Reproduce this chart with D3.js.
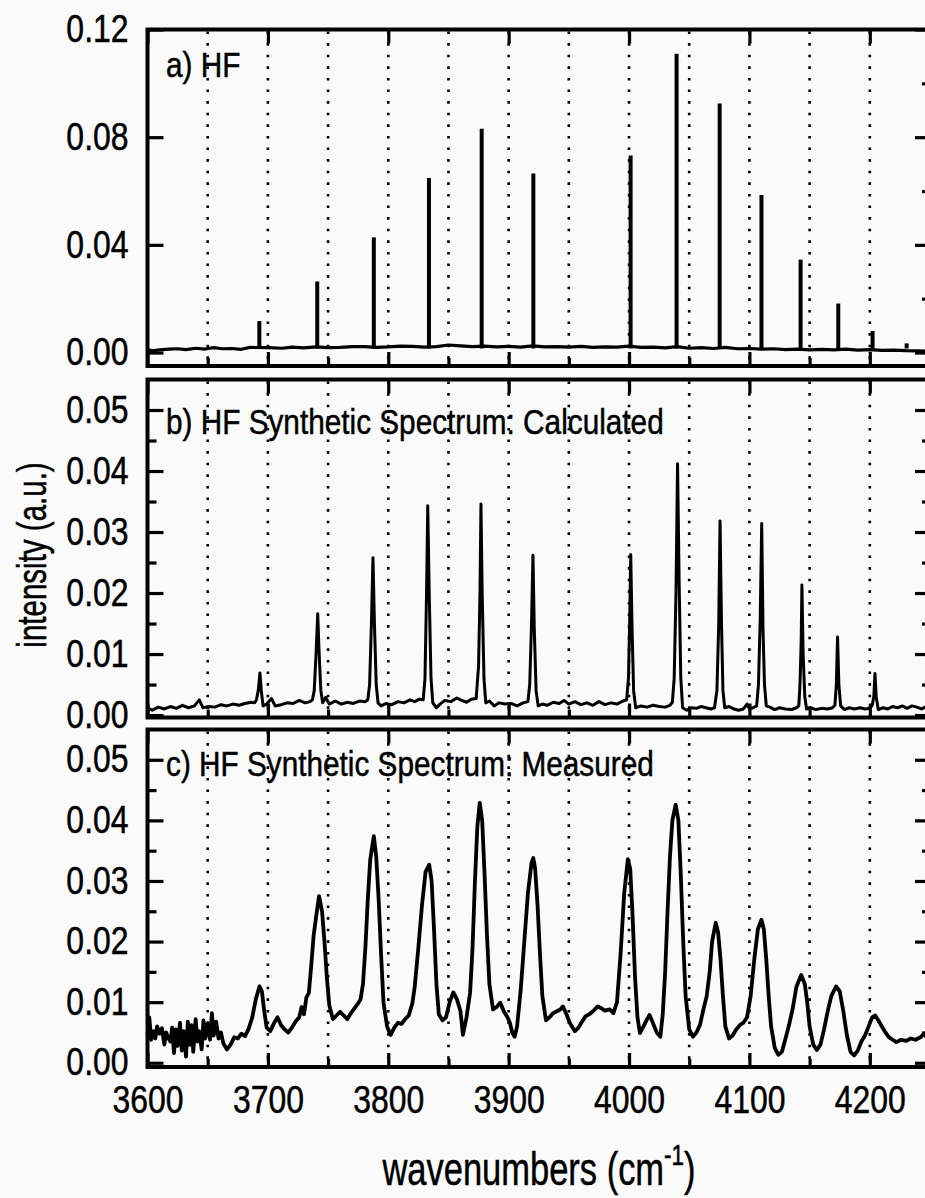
<!DOCTYPE html>
<html>
<head>
<meta charset="utf-8">
<script src="https://cdn.jsdelivr.net/npm/d3@7"></script>
<style>
  html, body { margin: 0; padding: 0; background: #fafafa; }
  svg { display: block; }
  text { font-family: "Liberation Sans", Arial, sans-serif; fill: #000; stroke: #000; stroke-width: 0.5px; }
</style>
</head>
<body>
<svg id="chart" width="925" height="1198"></svg>
<script>
// eixo x (numero de onda)
const wavenumberDomain = [3600, 4250];
const xMajorTicks = [3600, 3700, 3800, 3900, 4000, 4100, 4200];
const xGridTicks = [3650, 3700, 3750, 3800, 3850, 3900, 3950, 4000, 4050, 4100, 4150, 4200];

// painel a) HF: linha de base + linhas (sticks)
const hfBaseline = [
    [3600, 0.0012], [3604, 0.0006], [3610, 0.0010], [3618, 0.0013], [3625, 0.0014],
    [3632, 0.0011], [3640, 0.0016], [3648, 0.0013], [3655, 0.0018], [3662, 0.0014],
    [3670, 0.0015], [3678, 0.0012], [3685, 0.0019], [3700, 0.0018], [3712, 0.0016],
    [3720, 0.0020], [3730, 0.0017], [3740, 0.0021], [3750, 0.0018], [3760, 0.0019],
    [3770, 0.0022], [3780, 0.0022], [3790, 0.0019], [3800, 0.0021], [3810, 0.0024],
    [3820, 0.0023], [3830, 0.0020], [3840, 0.0022], [3850, 0.0028], [3860, 0.0025],
    [3870, 0.0022], [3880, 0.0024], [3890, 0.0021], [3900, 0.0023], [3910, 0.0020],
    [3920, 0.0025], [3930, 0.0021], [3940, 0.0022], [3950, 0.0020], [3960, 0.0023],
    [3970, 0.0019], [3980, 0.0021], [3990, 0.0020], [4000, 0.0024], [4010, 0.0019],
    [4020, 0.0020], [4030, 0.0017], [4040, 0.0022], [4050, 0.0016], [4060, 0.0018],
    [4070, 0.0015], [4080, 0.0019], [4090, 0.0014], [4100, 0.0015], [4110, 0.0013],
    [4120, 0.0014], [4130, 0.0011], [4140, 0.0013], [4150, 0.0010], [4160, 0.0012],
    [4170, 0.0010], [4180, 0.0013], [4190, 0.0009], [4200, 0.0011], [4210, 0.0008],
    [4220, 0.0009], [4230, 0.0007], [4240, 0.0006], [4250, 0.0005]
];
const hfPeaks = [
    [3692.9, 0.0117], [3741.0, 0.0264], [3788.0, 0.0428], [3833.8, 0.0648],
    [3877.6, 0.0831], [3920.5, 0.0665], [4001.3, 0.0732], [4039.5, 0.1110],
    [4075.3, 0.0925], [4110.0, 0.0585], [4142.5, 0.0345], [4173.8, 0.0182],
    [4202.3, 0.0080], [4230.6, 0.0034]
];

// painel b) espectro sintetico calculado
const calcSpectrum = [
    [3600, 0.0012], [3604, 0.0008], [3609, 0.0013], [3614, 0.0010], [3619, 0.0014],
    [3624, 0.0011], [3629, 0.0016], [3634, 0.0012], [3639, 0.0015], [3643, 0.0025],
    [3646, 0.0012], [3651, 0.0014], [3656, 0.0013], [3661, 0.0017], [3666, 0.0015],
    [3671, 0.0018], [3676, 0.0016], [3681, 0.0019], [3686, 0.0021], [3689, 0.0020],
    [3690.5, 0.0025], [3692, 0.0040], [3693.4, 0.0069], [3694.5, 0.0040], [3696, 0.0015],
    [3699, 0.0018], [3703, 0.0027], [3706, 0.0015], [3711, 0.0017], [3716, 0.0020],
    [3721, 0.0019], [3726, 0.0024], [3731, 0.0020], [3735, 0.0022], [3737, 0.0025],
    [3738.5, 0.0040], [3740, 0.0100], [3741.4, 0.0166], [3742.6, 0.0100], [3744, 0.0040],
    [3745.5, 0.0020], [3748, 0.0029], [3751, 0.0018], [3756, 0.0023], [3761, 0.0018],
    [3766, 0.0021], [3771, 0.0019], [3776, 0.0023], [3781, 0.0022], [3783, 0.0025],
    [3784.5, 0.0050], [3786, 0.0150], [3787.3, 0.0258], [3788.5, 0.0150], [3790, 0.0050],
    [3791.5, 0.0020], [3794, 0.0015], [3798, 0.0019], [3803, 0.0017], [3808, 0.0022],
    [3813, 0.0020], [3818, 0.0025], [3822, 0.0022], [3826, 0.0026], [3829, 0.0025],
    [3830.5, 0.0060], [3831.8, 0.0200], [3832.8, 0.0343], [3834, 0.0200], [3835.5, 0.0060],
    [3837, 0.0020], [3840, 0.0012], [3843, 0.0018], [3847, 0.0024], [3852, 0.0022],
    [3857, 0.0028], [3861, 0.0024], [3865, 0.0021], [3869, 0.0026], [3873, 0.0027],
    [3875, 0.0080], [3876.2, 0.0200], [3877, 0.0346], [3878, 0.0200], [3879.5, 0.0060],
    [3881, 0.0020], [3884, 0.0023], [3888, 0.0015], [3892, 0.0020], [3897, 0.0018],
    [3902, 0.0019], [3907, 0.0015], [3912, 0.0020], [3916, 0.0022],
    [3917.5, 0.0050], [3919, 0.0150], [3920.2, 0.0262], [3921.3, 0.0140], [3922.8, 0.0040],
    [3924.5, 0.0015], [3928, 0.0018], [3932, 0.0016], [3937, 0.0021], [3942, 0.0019],
    [3946, 0.0024], [3950, 0.0018], [3955, 0.0022], [3960, 0.0017], [3965, 0.0020],
    [3970, 0.0016], [3975, 0.0022], [3980, 0.0017], [3985, 0.0020], [3990, 0.0018],
    [3995, 0.0023], [3998, 0.0025],
    [3999.5, 0.0060], [4000.5, 0.0150], [4001.4, 0.0263], [4002.4, 0.0150], [4003.8, 0.0040],
    [4005.5, 0.0012], [4010, 0.0015], [4015, 0.0013], [4020, 0.0016], [4025, 0.0014],
    [4030, 0.0013], [4034, 0.0016], [4036, 0.0021],
    [4037.5, 0.0060], [4039, 0.0200], [4040.3, 0.0412], [4041.6, 0.0220], [4043, 0.0060],
    [4044.5, 0.0012], [4048, 0.0008], [4052, 0.0012], [4056, 0.0011], [4060, 0.0014],
    [4064, 0.0012], [4068, 0.0010], [4071, 0.0012],
    [4073, 0.0040], [4074.5, 0.0150], [4075.6, 0.0318], [4076.8, 0.0150], [4078, 0.0040],
    [4079.5, 0.0012], [4083, 0.0014], [4087, 0.0010], [4091, 0.0008], [4095, 0.0010],
    [4098, 0.0018], [4100, 0.0010], [4103, 0.0012], [4106, 0.0015],
    [4107.5, 0.0050], [4109, 0.0160], [4110.2, 0.0314], [4111.3, 0.0140], [4112.5, 0.0050],
    [4114, 0.0015], [4117, 0.0013], [4121, 0.0009], [4125, 0.0012], [4130, 0.0010],
    [4135, 0.0009], [4139, 0.0012], [4141, 0.0015],
    [4142, 0.0050], [4143, 0.0120], [4143.6, 0.0213], [4144.6, 0.0100], [4146, 0.0030],
    [4147.5, 0.0010], [4151, 0.0012], [4155, 0.0009], [4160, 0.0011], [4165, 0.0010],
    [4169, 0.0012], [4171, 0.0016],
    [4172.2, 0.0050], [4173.2, 0.0128], [4174.3, 0.0050], [4175.8, 0.0015],
    [4179, 0.0009], [4183, 0.0012], [4187, 0.0010], [4192, 0.0012], [4196, 0.0010],
    [4200, 0.0011], [4202, 0.0016],
    [4203.3, 0.0030], [4204.3, 0.0068], [4205.3, 0.0030], [4207, 0.0009],
    [4211, 0.0012], [4215, 0.0010], [4219, 0.0014], [4223, 0.0012], [4227, 0.0015],
    [4231, 0.0011], [4235, 0.0015], [4239, 0.0013], [4243, 0.0010], [4247, 0.0014],
    [4250, 0.0012]
];

// painel c) espectro sintetico medido
const measSpectrum = [
    [3600, 0.0045], [3601.5, 0.0075], [3603, 0.0038], [3605, 0.0052], [3606.5, 0.0040],
    [3608, 0.0060], [3610, 0.0048], [3612, 0.0057], [3614, 0.0030], [3615.5, 0.0050],
    [3617, 0.0042], [3619, 0.0035], [3620.5, 0.0058], [3622, 0.0016], [3623.5, 0.0055],
    [3625, 0.0028], [3627, 0.0066], [3628.5, 0.0020], [3630, 0.0052], [3632, 0.0010],
    [3633.5, 0.0068], [3635, 0.0030], [3636.5, 0.0062], [3638, 0.0018], [3640, 0.0072],
    [3641.5, 0.0035], [3643, 0.0052], [3645, 0.0022], [3646.5, 0.0070], [3648, 0.0040],
    [3650, 0.0065], [3652, 0.0038], [3653.5, 0.0082], [3655, 0.0045], [3657, 0.0068],
    [3659, 0.0040], [3661, 0.0050], [3663, 0.0032], [3666, 0.0022], [3669, 0.0030],
    [3672, 0.0042], [3675, 0.0040], [3678, 0.0048], [3681, 0.0044], [3684, 0.0056],
    [3687, 0.0075], [3690, 0.0105], [3693, 0.0126], [3695, 0.0118], [3697, 0.0085],
    [3699, 0.0058], [3702, 0.0052], [3705, 0.0065], [3708, 0.0075], [3711, 0.0062],
    [3714, 0.0055], [3717, 0.0050], [3720, 0.0058], [3723, 0.0068], [3726, 0.0075],
    [3728, 0.0092], [3730, 0.0080], [3732, 0.0108], [3734, 0.0115], [3736, 0.0160],
    [3738, 0.0210], [3740, 0.0240], [3742.5, 0.0275], [3745, 0.0250], [3747, 0.0200],
    [3749, 0.0140], [3751, 0.0095], [3754, 0.0072], [3757, 0.0078], [3760, 0.0084],
    [3763, 0.0078], [3766, 0.0072], [3769, 0.0082], [3772, 0.0090], [3775, 0.0098],
    [3777, 0.0105], [3779, 0.0130], [3781, 0.0190], [3783, 0.0270], [3785, 0.0335],
    [3788, 0.0374], [3790, 0.0340], [3792, 0.0270], [3794, 0.0180], [3796, 0.0100],
    [3799, 0.0060], [3802, 0.0046], [3805, 0.0058], [3808, 0.0066], [3811, 0.0064],
    [3814, 0.0072], [3817, 0.0078], [3820, 0.0098], [3822, 0.0126], [3825, 0.0190],
    [3828, 0.0260], [3831, 0.0315], [3834, 0.0327], [3836, 0.0300], [3838, 0.0220],
    [3840, 0.0130], [3842, 0.0080], [3845, 0.0070], [3848, 0.0075], [3851, 0.0100],
    [3854, 0.0116], [3857, 0.0105], [3860, 0.0085], [3862, 0.0046], [3865, 0.0075],
    [3868, 0.0116], [3870, 0.0190], [3872, 0.0300], [3874, 0.0390], [3876, 0.0429],
    [3878, 0.0400], [3880, 0.0310], [3882, 0.0210], [3884, 0.0130], [3887, 0.0088],
    [3890, 0.0092], [3893, 0.0099], [3896, 0.0085], [3899, 0.0075], [3901, 0.0066],
    [3903, 0.0050], [3905, 0.0043], [3907, 0.0060], [3910, 0.0120], [3913, 0.0200],
    [3916, 0.0280], [3919, 0.0330], [3920.5, 0.0338], [3922, 0.0320], [3924, 0.0260],
    [3926, 0.0180], [3928, 0.0110], [3931, 0.0070], [3934, 0.0075], [3937, 0.0082],
    [3940, 0.0085], [3943, 0.0088], [3945, 0.0093], [3948, 0.0080], [3951, 0.0065],
    [3955, 0.0052], [3958, 0.0058], [3961, 0.0068], [3964, 0.0077], [3967, 0.0080],
    [3970, 0.0085], [3974, 0.0093], [3977, 0.0090], [3980, 0.0086], [3984, 0.0088],
    [3987, 0.0082], [3990, 0.0100], [3993, 0.0180], [3996, 0.0280], [3999, 0.0336],
    [4001, 0.0320], [4003, 0.0240], [4005, 0.0140], [4007, 0.0075], [4009, 0.0049],
    [4012, 0.0060], [4015, 0.0072], [4017, 0.0079], [4020, 0.0065], [4023, 0.0050],
    [4026, 0.0043], [4028, 0.0080], [4030, 0.0150], [4032, 0.0250], [4034, 0.0340],
    [4036, 0.0400], [4038.7, 0.0426], [4041, 0.0400], [4043, 0.0310], [4045, 0.0200],
    [4047, 0.0110], [4050, 0.0055], [4053, 0.0043], [4056, 0.0050], [4059, 0.0063],
    [4062, 0.0090], [4064.5, 0.0110], [4067, 0.0150], [4069, 0.0200], [4072, 0.0231],
    [4074, 0.0215], [4076, 0.0170], [4078, 0.0110], [4080, 0.0060], [4083, 0.0040],
    [4086, 0.0045], [4089, 0.0055], [4092, 0.0062], [4095, 0.0066], [4098, 0.0075],
    [4101, 0.0110], [4104, 0.0170], [4107, 0.0220], [4110, 0.0236], [4112, 0.0220],
    [4114, 0.0170], [4116, 0.0110], [4118, 0.0060], [4121, 0.0025], [4124, 0.0013],
    [4127, 0.0018], [4130, 0.0040], [4133, 0.0063], [4136, 0.0090], [4139, 0.0125],
    [4143, 0.0145], [4146, 0.0130], [4148, 0.0100], [4150, 0.0060], [4153, 0.0030],
    [4156, 0.0021], [4159, 0.0030], [4162, 0.0055], [4165, 0.0085], [4168, 0.0110],
    [4172, 0.0126], [4175, 0.0118], [4178, 0.0085], [4181, 0.0045], [4184, 0.0018],
    [4187, 0.0012], [4190, 0.0020], [4193, 0.0035], [4196, 0.0045], [4199, 0.0060],
    [4202, 0.0075], [4204.5, 0.0078], [4207, 0.0070], [4210, 0.0060], [4213, 0.0050],
    [4216, 0.0042], [4219, 0.0038], [4222, 0.0034], [4226, 0.0038], [4230, 0.0036],
    [4234, 0.0040], [4238, 0.0038], [4242, 0.0042], [4245, 0.0048], [4248, 0.0040],
    [4250, 0.0043]
];

// ticks do eixo y
const aYTicks = [0, 0.04, 0.08, 0.12];
const aYMinor = [0.02, 0.06, 0.10];
const bcYTicks = [0, 0.01, 0.02, 0.03, 0.04, 0.05];
const bcYMinor = [0.005, 0.015, 0.025, 0.035, 0.045];

const panelLabels = ["a) HF", "b) HF Synthetic Spectrum: Calculated", "c) HF Synthetic Spectrum: Measured"];
const yTitle = "intensity (a.u.)";

// Dimensões
const left = 147.5, right = 930;

const svg = d3.select("#chart");

const x = d3.scaleLinear().domain(wavenumberDomain).range([left, right]);

// comprime o texto na horizontal (fonte estreita)
function squeeze(sel, k) {
    sel.each(function () {
        const w = this.getComputedTextLength();
        d3.select(this).attr("textLength", w * k).attr("lengthAdjust", "spacingAndGlyphs");
    });
}

// paineis (posicoes em pixels)
const panels = [
    { top: 29.5, bottom: 366, domain: [-0.005, 0.12], ticks: aYTicks, minor: aYMinor, leftMinor: false, label: panelLabels[0], labelY: 77 },
    { top: 379.5, bottom: 717.5, domain: [-0.0004, 0.055], ticks: bcYTicks, minor: bcYMinor, leftMinor: true, label: panelLabels[1], labelY: 434 },
    { top: 729.5, bottom: 1067, domain: [-0.0007, 0.055], ticks: bcYTicks, minor: bcYMinor, leftMinor: true, label: panelLabels[2], labelY: 776 }
];

panels.forEach(p => {
    p.y = d3.scaleLinear().domain(p.domain).range([p.bottom, p.top]);
});

const fmt = d3.format(".2f");

panels.forEach((p, i) => {
    const g = svg.append("g");

    // grade pontilhada
    g.selectAll(".grid")
        .data(xGridTicks)
        .enter().append("line")
        .attr("x1", d => x(d)).attr("x2", d => x(d))
        .attr("y1", p.top + 2).attr("y2", p.bottom - 2)
        .attr("stroke", "#000")
        .attr("stroke-width", 2.6)
        .attr("stroke-dasharray", "2.6,9");

    // eixo esquerdo
    const yAxis = d3.axisLeft(p.y).tickValues(p.ticks).tickFormat(fmt).tickSize(-16).tickPadding(19);
    g.append("g").attr("transform", `translate(${left},0)`).call(yAxis);
    if (p.leftMinor) {
        g.append("g").attr("transform", `translate(${left},0)`)
            .call(d3.axisLeft(p.y).tickValues(p.minor).tickFormat("").tickSize(-9));
    }
    // eixo direito
    g.append("g").attr("transform", `translate(${right},0)`)
        .call(d3.axisRight(p.y).tickValues(p.ticks).tickFormat("").tickSize(-15));
    g.append("g").attr("transform", `translate(${right},0)`)
        .call(d3.axisRight(p.y).tickValues(p.minor).tickFormat("").tickSize(-8));

    // eixo superior e inferior
    g.append("g").attr("transform", `translate(0,${p.top})`)
        .call(d3.axisTop(x).tickValues(xMajorTicks).tickFormat("").tickSize(-14));
    const xAxis = d3.axisBottom(x).tickValues(xMajorTicks).tickSize(-14).tickPadding(19)
        .tickFormat(i === 2 ? d3.format("d") : "");
    g.append("g").attr("transform", `translate(0,${p.bottom})`).call(xAxis);
    g.append("g").attr("transform", `translate(0,${p.bottom})`)
        .call(d3.axisBottom(x).tickValues(xGridTicks.filter(d => d % 100 !== 0)).tickFormat("").tickSize(-8));

    g.selectAll(".domain").remove();
    g.selectAll(".tick line").attr("stroke", "#000").attr("stroke-width", 3.2);
    g.selectAll(".tick text")
        .attr("font-size", 38).attr("font-family", null).style("fill", "#000")
        .call(squeeze, 0.84);

    // moldura
    g.append("rect")
        .attr("x", left).attr("y", p.top)
        .attr("width", right - left).attr("height", p.bottom - p.top)
        .attr("fill", "none").attr("stroke", "#000").attr("stroke-width", 4);

    // rotulo do painel
    g.append("text")
        .attr("x", 166).attr("y", p.labelY)
        .attr("font-size", 35)
        .text(p.label)
        .call(squeeze, 0.85);
});

const line = (yScale) => d3.line().x(d => x(d[0])).y(d => yScale(d[1]));

// painel a: linha de base + sticks
const pa = panels[0];
svg.append("path")
    .datum(hfBaseline)
    .attr("d", line(pa.y))
    .attr("fill", "none").attr("stroke", "#000").attr("stroke-width", 3.2)
    .attr("stroke-linejoin", "round");
svg.selectAll(".stick")
    .data(hfPeaks)
    .enter().append("line")
    .attr("class", "stick")
    .attr("x1", d => x(d[0])).attr("x2", d => x(d[0]))
    .attr("y1", pa.y(0.0015)).attr("y2", d => pa.y(d[1]))
    .attr("stroke", "#000").attr("stroke-width", 4);

// painel b
svg.append("path")
    .datum(calcSpectrum)
    .attr("d", line(panels[1].y))
    .attr("fill", "none").attr("stroke", "#000").attr("stroke-width", 3)
    .attr("stroke-linejoin", "round");

// painel c
svg.append("path")
    .datum(measSpectrum)
    .attr("d", line(panels[2].y))
    .attr("fill", "none").attr("stroke", "#000").attr("stroke-width", 3.8)
    .attr("stroke-linejoin", "round");

// titulos dos eixos
svg.append("text")
    .attr("transform", "translate(46,555) rotate(-90) scale(0.72,1)")
    .attr("text-anchor", "middle")
    .attr("font-size", 41)
    .text(yTitle);

const xt = svg.append("text")
    .attr("transform", "translate(539,1185) scale(0.75,1)")
    .attr("text-anchor", "middle")
    .attr("font-size", 46);
xt.append("tspan").text("wavenumbers (cm");
xt.append("tspan").attr("font-size", 30).attr("dy", -20).text("-1");
xt.append("tspan").attr("dy", 20).text(")");
</script>
</body>
</html>
